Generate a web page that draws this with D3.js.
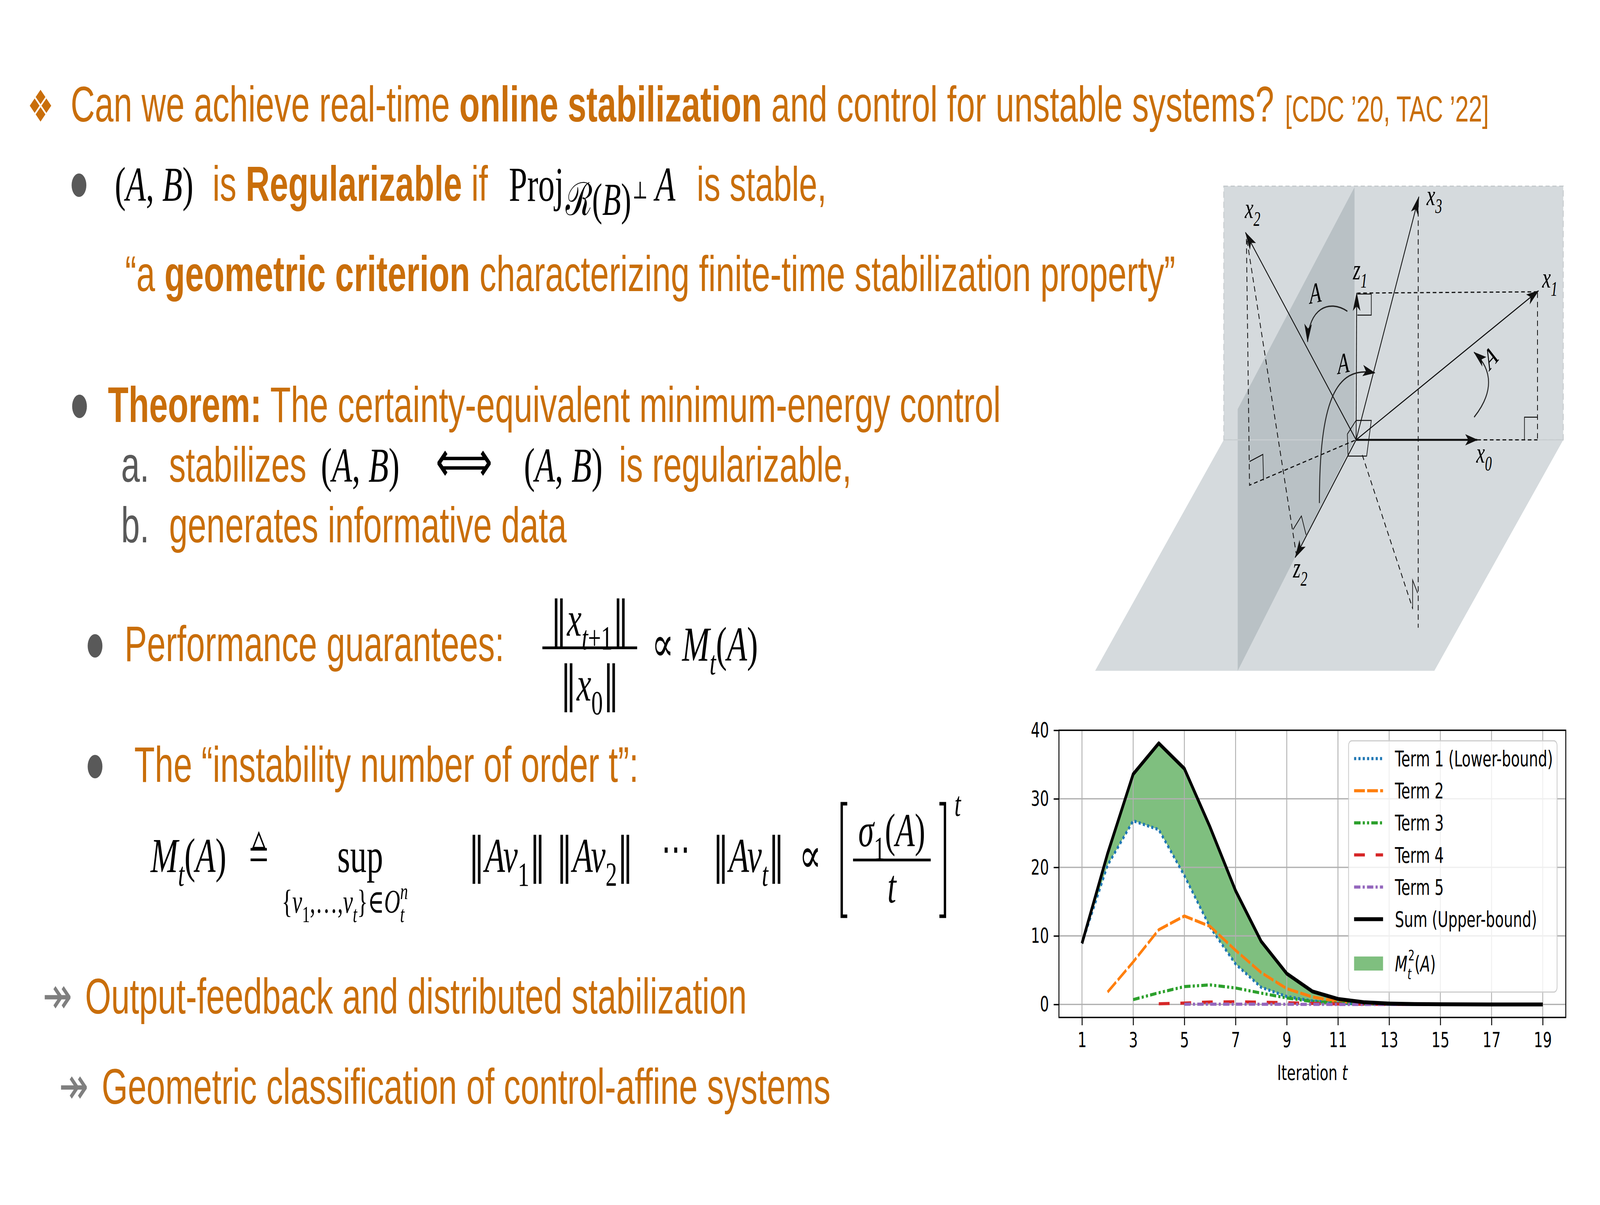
<!DOCTYPE html>
<html>
<head>
<meta charset="utf-8">
<title>Online stabilization</title>
<script src="https://d3js.org/d3.v7.min.js"></script>
<style>
  html, body { margin: 0; padding: 0; background: #fff; overflow: hidden; }
  svg { display: block; width: 100vw; height: 100vh; }
</style>
</head>
<body>
<div id="slide"></div>
<script>
// ---- chart data ----
var iterations = [1, 2, 3, 4, 5, 6, 7, 8, 9, 10, 11, 12, 13, 14, 15, 16, 17, 18, 19];
var term1 = [8.9, 20.3, 26.8, 25.5, 18.8, 11.3, 5.9, 2.5, 1.15, 0.5, 0.18, 0.06, 0.02, 0.01, 0, 0, 0, 0, 0];
var term2 = [null, 1.8, 6.2, 10.9, 12.9, 11.4, 7.9, 4.65, 2.3, 1.1, 0.42, 0.15, 0.05, 0.02, 0.01, 0, 0, 0, 0];
var term3 = [null, null, 0.7, 1.7, 2.6, 2.85, 2.4, 1.65, 0.95, 0.42, 0.18, 0.07, 0.03, 0.01, 0, 0, 0, 0, 0];
var term4 = [null, null, null, 0.1, 0.2, 0.35, 0.38, 0.33, 0.25, 0.15, 0.07, 0.03, 0.01, 0, 0, 0, 0, 0, 0];
var term5 = [null, null, null, null, 0.03, 0.04, 0.04, 0.03, 0.02, 0.01, 0, 0, 0, 0, 0, 0, 0, 0, 0];
var sumUpper = [8.9, 22.0, 33.6, 38.1, 34.4, 25.9, 16.6, 9.2, 4.5, 1.9, 0.8, 0.32, 0.13, 0.05, 0.02, 0.01, 0, 0, 0];
var xTicks = [1, 3, 5, 7, 9, 11, 13, 15, 17, 19];
var yTicks = [0, 10, 20, 30, 40];
var seriesNames = ["Term 1 (Lower-bound)", "Term 2", "Term 3", "Term 4", "Term 5", "Sum (Upper-bound)"];

var W = 6077, H = 3084;
var ORANGE = "#c96e0a", GREY = "#595959";
var SANS = "'Liberation Sans', Arial, sans-serif";
var SERIF = "'Liberation Serif', 'DejaVu Serif', serif";
var MPL = "'DejaVu Sans', sans-serif";
var NORM = "'DejaVu Serif', serif";

// the slide is drawn in a 6077x3084 user space and stretched over the window
var svg = d3.select("#slide").append("svg")
    .attr("viewBox", "0 0 " + W + " " + H)
    .attr("preserveAspectRatio", "none");
svg.append("rect").attr("width", W).attr("height", H).attr("fill", "#fff");
var defs = svg.append("defs");

// stretch / shrink a text line so it spans the same width as in the slide
function fit(t, width) {
    var w = t.node().getComputedTextLength();
    var fs = parseFloat(t.attr("font-size"));
    t.attr("font-size", fs * width / w);
    return t;
}

// orange text line, parts = [[text, bold], ...]
function line(x, y, parts, width, fs) {
    var t = svg.append("text").attr("x", x).attr("y", y)
        .attr("font-family", SANS).attr("font-size", fs || 128).attr("fill", ORANGE);
    parts.forEach(function(p) {
        var s = t.append("tspan").text(p[0]);
        if (p[1]) s.attr("font-weight", "bold");
    });
    if (width) fit(t, width);
    return t;
}

// math run with italic / sub / sup pieces
function math(g, x, y, fs, parts, anchor) {
    var t = g.append("text").attr("x", x).attr("y", y)
        .attr("font-family", SERIF).attr("font-size", fs).attr("fill", "#000");
    if (anchor) t.attr("text-anchor", anchor);
    var shift = 0;
    parts.forEach(function(p) {
        var target = p.s === 1 ? fs * 0.28 : p.s === -1 ? -fs * 0.42 : 0;
        var sp = t.append("tspan").text(p.t).attr("dy", target - shift);
        if (p.s) sp.attr("font-size", fs * 0.7);
        if (p.i) sp.attr("font-style", "italic");
        if (p.f) sp.attr("font-family", p.f);
        if (p.dx) sp.attr("dx", p.dx);
        shift = target;
    });
    return t;
}

function bullet(cx, cy) {
    svg.append("ellipse").attr("cx", cx).attr("cy", cy).attr("rx", 28).attr("ry", 30).attr("fill", GREY);
}

// ---------------- slide text ----------------
fit(svg.append("text").attr("x", 104).attr("y", 311).attr("font-family", MPL)
    .attr("font-size", 130).attr("fill", ORANGE).text("\u2756"), 100);
line(268, 311, [["Can we achieve real-time "], ["online stabilization", true], [" and control for unstable systems?"]], 4571);
line(4881, 311, [["[CDC \u201920, TAC \u201922]"]], 774, 90);

// bullet 1
bullet(300, 474);
math(svg, 436, 514, 125, [{t: "("}, {t: "A", i: 1}, {t: ", "}, {t: "B", i: 1}, {t: ")"}]);
line(807, 514, [["is "], ["Regularizable", true], [" if"]], 1046);
math(svg, 1933, 514, 125, [{t: "Proj"}]);
fit(math(svg, 2148, 550, 90, [{t: "\u211B", f: NORM}, {t: "("}, {t: "B", i: 1}, {t: ")"}]), 250);
math(svg, 2402, 508, 62, [{t: "\u22A5", f: NORM}]);
math(svg, 2489, 514, 125, [{t: "A", i: 1}]);
line(2646, 514, [["is stable,"]], 493);
line(475, 745, [["\u201Ca "], ["geometric criterion", true], [" characterizing finite-time stabilization property\u201D"]], 3989);

// theorem
bullet(302, 1040);
line(410, 1080, [["Theorem:", true], [" The certainty-equivalent minimum-energy control"]], 3391);
svg.append("text").attr("x", 460).attr("y", 1233).attr("font-family", SANS).attr("font-size", 128).attr("fill", GREY).text("a.");
line(642, 1233, [["stabilizes"]], 522);
math(svg, 1219, 1233, 125, [{t: "("}, {t: "A", i: 1}, {t: ", "}, {t: "B", i: 1}, {t: ")"}]);
fit(math(svg, 1654, 1233, 120, [{t: "\u27FA", f: "'DejaVu Sans', sans-serif"}]), 217);
math(svg, 1990, 1233, 125, [{t: "("}, {t: "A", i: 1}, {t: ", "}, {t: "B", i: 1}, {t: ")"}]);
line(2351, 1233, [["is regularizable,"]], 883);
svg.append("text").attr("x", 460).attr("y", 1388).attr("font-family", SANS).attr("font-size", 128).attr("fill", GREY).text("b.");
line(642, 1388, [["generates informative data"]], 1510);

// performance
bullet(361, 1653);
line(473, 1692, [["Performance guarantees:"]], 1442);
math(svg, 2240, 1627, 125, [{t: "\u2016", f: NORM}, {t: "x", i: 1}, {t: "t", s: 1, i: 1}, {t: "+1", s: 1},
    {t: "\u2016", f: NORM}], "middle");
svg.append("line").attr("x1", 2060).attr("x2", 2420).attr("y1", 1658).attr("y2", 1658).attr("stroke", "#000").attr("stroke-width", 7);
math(svg, 2240, 1793, 125, [{t: "\u2016", f: NORM}, {t: "x", i: 1}, {t: "0", s: 1}, {t: "\u2016", f: NORM}], "middle");
math(svg, 2475, 1691, 125, [{t: "\u221D "}, {t: "M", i: 1}, {t: "t", s: 1, i: 1}, {t: "("}, {t: "A", i: 1}, {t: ")"}]);

// instability number
bullet(361, 1962);
line(510, 2001, [["The \u201Cinstability number of order t\u201D:"]], 1915);
math(svg, 572, 2232, 125, [{t: "M", i: 1}, {t: "t", s: 1, i: 1}, {t: "("}, {t: "A", i: 1}, {t: ")"}]);
fit(math(svg, 945, 2232, 125, [{t: "="}]), 75);
// small delta on top of the equals sign ("defined as")
svg.append("path").attr("d", "M983,2132L961,2170H1005Z").attr("fill", "none")
    .attr("stroke", "#000").attr("stroke-width", 5).attr("stroke-linejoin", "miter");
fit(math(svg, 1281, 2232, 125, [{t: "sup"}]), 174);
math(svg, 1070, 2336, 84, [{t: "{"}, {t: "v", i: 1}, {t: "1", s: 1}, {t: ",\u2026,"}, {t: "v", i: 1}, {t: "t", s: 1, i: 1},
    {t: "}\u2208"}, {t: "O", i: 1}, {t: "t", s: 1, i: 1}, {t: "n", s: -1, i: 1, dx: -16}]);
math(svg, 1779, 2232, 125, [{t: "\u2016", f: NORM}, {t: "Av", i: 1}, {t: "1", s: 1}, {t: "\u2016 \u2016", f: NORM},
    {t: "Av", i: 1}, {t: "2", s: 1}, {t: "\u2016", f: NORM}]);
math(svg, 2512, 2210, 110, [{t: "\u22EF", f: "'DejaVu Sans', sans-serif"}]);
math(svg, 2706, 2232, 125, [{t: "\u2016", f: NORM}, {t: "Av", i: 1}, {t: "t", s: 1, i: 1}, {t: "\u2016", f: NORM}]);
math(svg, 3035, 2232, 125, [{t: "\u221D"}]);
svg.append("path").attr("d", "M3218,2057H3197V2345H3218M3568,2057H3589V2345H3568")
    .attr("fill", "none").attr("stroke", "#000").attr("stroke-width", 9);
math(svg, 3387, 2166, 120, [{t: "\u03C3", i: 1}, {t: "1", s: 1}, {t: "("}, {t: "A", i: 1}, {t: ")"}], "middle");
svg.append("line").attr("x1", 3240).attr("x2", 3535).attr("y1", 2201).attr("y2", 2201).attr("stroke", "#000").attr("stroke-width", 7);
math(svg, 3387, 2310, 120, [{t: "t", i: 1}], "middle");
math(svg, 3625, 2088, 88, [{t: "t", i: 1}]);

// follow-ups
fit(svg.append("text").attr("x", 162).attr("y", 2594).attr("font-family", MPL).attr("font-size", 110)
    .attr("fill", "#7f7f7f").text("\u21A0"), 112);
line(323, 2594, [["Output-feedback and distributed stabilization"]], 2513);
fit(svg.append("text").attr("x", 224).attr("y", 2825).attr("font-family", MPL).attr("font-size", 110)
    .attr("fill", "#7f7f7f").text("\u21A0"), 112);
line(386, 2825, [["Geometric classification of control-affine systems"]], 2768);

// ---------------- geometric diagram ----------------
function P(a, b) { return [4150 + a * 1.1799, 450 + b * 0.8291]; }
function pts(list) { return list.map(function(q) { return P(q[0], q[1]); }); }
var dg = svg.append("g");
var poly = d3.line();
defs.append("marker").attr("id", "arr").attr("viewBox", "0 0 20 12").attr("refX", 19).attr("refY", 6)
    .attr("markerWidth", 48).attr("markerHeight", 30).attr("markerUnits", "userSpaceOnUse").attr("orient", "auto")
  .append("path").attr("d", "M0,0L20,6L0,12L5,6Z").attr("fill", "#111");

dg.append("path").attr("d", poly(pts([[422, 32], [1515, 32], [1515, 815], [422, 815]])) + "Z")
    .attr("fill", "#d5dadd").attr("stroke", "#c4c9cc").attr("stroke-width", 3).attr("stroke-dasharray", "16,10");
dg.append("path").attr("d", poly(pts([[422, 815], [1515, 815], [1100, 1528], [8, 1528]])) + "Z").attr("fill", "#d5dadd");
dg.append("path").attr("d", poly(pts([[843, 35], [843, 815], [467, 1528], [467, 720]])) + "Z").attr("fill", "#b9c1c5");
dg.append("path").attr("d", poly(pts([[422, 815], [1515, 815]]))).attr("stroke", "#c9ced1").attr("stroke-width", 3);

function dashed(list) {
    dg.append("path").attr("d", poly(pts(list))).attr("fill", "none")
        .attr("stroke", "#111").attr("stroke-width", 3).attr("stroke-dasharray", "14,10");
}
function thin(list) {
    dg.append("path").attr("d", poly(pts(list))).attr("fill", "none").attr("stroke", "#111").attr("stroke-width", 2.5);
}
function vec(to, w) {
    dg.append("path").attr("d", poly(pts([[848, 815], to]))).attr("fill", "none")
        .attr("stroke", "#111").attr("stroke-width", w || 3).attr("marker-end", "url(#arr)");
}
dashed([[1238, 815], [1432, 815]]);
dashed([[1432, 360], [1432, 815]]);
dashed([[1432, 358], [852, 362]]);
dashed([[1048, 80], [1048, 1395]]);
dashed([[868, 862], [1030, 1335]]);
dashed([[495, 195], [505, 955], [848, 815]]);
dashed([[497, 200], [655, 1165]]);
thin([[852, 365], [897, 365], [897, 430], [852, 430]]);
thin([[1390, 815], [1390, 745], [1432, 745]]);
thin([[505, 882], [548, 860], [550, 940]]);
thin([[645, 1092], [672, 1050], [687, 1108]]);
thin([[1030, 1338], [1030, 1248], [1046, 1288]]);
thin([[820, 797], [848, 755], [897, 755], [882, 865], [822, 865], [820, 797]]);
vec([1238, 815], 5);
vec([1435, 355]);
vec([850, 362]);
vec([1050, 65]);
vec([492, 175]);
vec([652, 1178]);

function curve(a, c1, c2, b) {
    var p0 = P(a[0], a[1]), q1 = P(c1[0], c1[1]), q2 = P(c2[0], c2[1]), p1 = P(b[0], b[1]);
    dg.append("path").attr("d", "M" + p0 + "C" + q1 + " " + q2 + " " + p1).attr("fill", "none")
        .attr("stroke", "#222").attr("stroke-width", 3.5).attr("marker-end", "url(#arr)");
}
curve([820, 418], [760, 380], [695, 410], [692, 512]);
curve([730, 1010], [730, 700], [780, 585], [908, 608]);
curve([1228, 745], [1290, 670], [1290, 600], [1228, 545]);

function label(a, b, main, sub, rot) {
    var p = P(a, b);
    var t = math(dg, p[0], p[1], 74, sub ? [{t: main, i: 1}, {t: sub, s: 1, i: 1}] : [{t: main, i: 1}]);
    if (rot) t.attr("transform", "rotate(" + rot + "," + p[0] + "," + p[1] + ")");
}
label(490, 130, "x", "2");
label(1075, 90, "x", "3");
label(838, 320, "z", "1");
label(1447, 345, "x", "1");
label(1235, 885, "x", "0");
label(645, 1240, "z", "2");
label(700, 395, "A", null, -8);
label(790, 612, "A", null, -8);
label(1278, 602, "A", null, -38);

// ---------------- chart ----------------
var plot = {left: 4022, right: 5947, top: 1869, bottom: 2604};
var x = d3.scaleLinear().domain([0.1, 19.9]).range([plot.left, plot.right]);
var y = d3.scaleLinear().domain([-1.9, 40.0]).range([plot.bottom, plot.top]);
var series = [
    {name: seriesNames[0], values: term1, color: "#1f77b4", dash: "8,8.4", w: 8},
    {name: seriesNames[1], values: term2, color: "#ff7f0e", dash: "41,8.5", w: 8},
    {name: seriesNames[2], values: term3, color: "#2ca02c", dash: "24.5,8.3,8,8.3,8,8.3", w: 8},
    {name: seriesNames[3], values: term4, color: "#d62728", dash: "41,41", w: 8},
    {name: seriesNames[4], values: term5, color: "#9467bd", dash: "24,8.5,8,8.5", w: 8},
    {name: seriesNames[5], values: sumUpper, color: "#000000", dash: null, w: 10}
];

var ch = svg.append("g");
defs.append("clipPath").attr("id", "plotclip").append("rect")
    .attr("x", plot.left).attr("y", plot.top).attr("width", plot.right - plot.left).attr("height", plot.bottom - plot.top);

// shaded band between lower and upper bound
var band = d3.area()
    .x(function(d, i) { return x(iterations[i]); })
    .y0(function(d, i) { return y(term1[i]); })
    .y1(function(d) { return y(d); });
ch.append("path").datum(sumUpper).attr("d", band).attr("fill", "green").attr("fill-opacity", 0.5)
    .attr("clip-path", "url(#plotclip)");

// grid
ch.append("g").selectAll("line").data(xTicks).join("line")
    .attr("x1", function(d) { return x(d); }).attr("x2", function(d) { return x(d); })
    .attr("y1", plot.top).attr("y2", plot.bottom).attr("stroke", "#b0b0b0").attr("stroke-width", 3.3);
ch.append("g").selectAll("line").data(yTicks).join("line")
    .attr("y1", function(d) { return y(d); }).attr("y2", function(d) { return y(d); })
    .attr("x1", plot.left).attr("x2", plot.right).attr("stroke", "#b0b0b0").attr("stroke-width", 3.3);

// series lines
var lineGen = d3.line()
    .defined(function(d) { return d !== null; })
    .x(function(d, i) { return x(iterations[i]); })
    .y(function(d) { return y(d); });
series.forEach(function(s) {
    ch.append("path").datum(s.values).attr("d", lineGen).attr("fill", "none")
        .attr("stroke", s.color).attr("stroke-width", s.w).attr("stroke-linejoin", "round")
        .attr("stroke-dasharray", s.dash).attr("clip-path", "url(#plotclip)");
});

// axes
var xAxis = ch.append("g").attr("transform", "translate(0," + plot.bottom + ")")
    .call(d3.axisBottom(x).tickValues(xTicks).tickSize(20).tickPadding(18));
var yAxis = ch.append("g").attr("transform", "translate(" + plot.left + ",0)")
    .call(d3.axisLeft(y).tickValues(yTicks).tickSize(20).tickPadding(18));
[xAxis, yAxis].forEach(function(a) {
    a.select(".domain").remove();
    a.selectAll(".tick line").attr("stroke", "#000").attr("stroke-width", 3.5);
    a.selectAll(".tick text").attr("font-family", MPL).attr("font-size", 54).attr("fill", "#000");
});
ch.append("rect").attr("x", plot.left).attr("y", plot.top)
    .attr("width", plot.right - plot.left).attr("height", plot.bottom - plot.top)
    .attr("fill", "none").attr("stroke", "#000").attr("stroke-width", 3.5);

var xl = ch.append("text").attr("x", (plot.left + plot.right) / 2).attr("y", 2764)
    .attr("text-anchor", "middle").attr("font-family", MPL).attr("font-size", 54);
xl.append("tspan").text("Iteration ");
xl.append("tspan").text("t").attr("font-style", "italic");

// legend
var lg = ch.append("g");
lg.append("rect").attr("x", 5122).attr("y", 1896).attr("width", 792).attr("height", 643).attr("rx", 12)
    .attr("fill", "#fff").attr("fill-opacity", 0.8).attr("stroke", "#cccccc").attr("stroke-width", 3);
series.forEach(function(s, i) {
    var cy = 1941.5 + i * 82.2;
    lg.append("line").attr("x1", 5143).attr("x2", 5253).attr("y1", cy).attr("y2", cy)
        .attr("stroke", s.color).attr("stroke-width", s.w).attr("stroke-dasharray", s.dash);
    lg.append("text").attr("x", 5298).attr("y", cy + 19.5).attr("font-family", MPL)
        .attr("font-size", 55).text(s.name);
});
lg.append("rect").attr("x", 5143).attr("y", 2448).attr("width", 110).attr("height", 36)
    .attr("fill", "green").attr("fill-opacity", 0.5);
var ml = lg.append("text").attr("x", 5298).attr("y", 2486).attr("font-family", MPL).attr("font-size", 55);
ml.append("tspan").text("M").attr("font-style", "italic");
ml.append("tspan").text("t").attr("font-style", "italic").attr("font-size", 38).attr("dy", 20);
ml.append("tspan").text("2").attr("font-size", 38).attr("dx", -12).attr("dy", -48);
ml.append("tspan").text("(").attr("dy", 28);
ml.append("tspan").text("A").attr("font-style", "italic");
ml.append("tspan").text(")");
</script>
</body>
</html>
